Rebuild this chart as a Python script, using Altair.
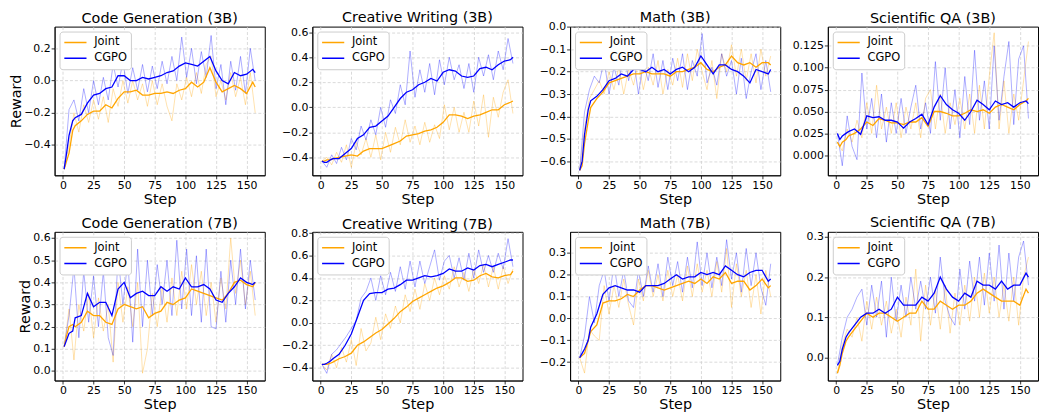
import altair as alt
import pandas as pd

SERIES = ["Joint", "CGPO"]
RAW_SERIES = ["Joint raw", "CGPO raw"]
COLORS = ["#FFA500", "#0000FF"]

STEPS_SMOOTH = [1, 3, 5, 8, 10, 15, 20, 25, 30, 35, 40, 45, 50, 55, 60, 65, 70, 75, 80, 85,
                90, 95, 100, 105, 110, 115, 120, 125, 130, 135, 140, 145, 150, 155, 157]
STEPS_RAW = [1, 5, 9, 13, 17, 21, 25, 29, 33, 37, 41, 45, 49, 53, 57, 61, 65, 69, 73, 77,
             81, 85, 89, 93, 97, 101, 105, 109, 113, 117, 121, 125, 129, 133, 137, 141, 145, 149, 153, 157]

# ---- Code Generation (3B)
CODE3B_JOINT_SMOOTH = [-0.55, -0.50, -0.45, -0.31, -0.28, -0.25, -0.21, -0.19, -0.19, -0.15, -0.17, -0.11,
                       -0.07, -0.07, -0.06, -0.09, -0.09, -0.08, -0.08, -0.07, -0.08, -0.06, -0.05, -0.01,
                       -0.04, -0.01, 0.08, -0.01, -0.07, -0.05, -0.03, -0.05, -0.08, -0.01, -0.04]
CODE3B_CGPO_SMOOTH = [-0.55, -0.45, -0.34, -0.25, -0.23, -0.21, -0.14, -0.09, -0.08, -0.05, -0.04, 0.03,
                      0.03, 0.0, 0.0, 0.02, 0.01, 0.02, 0.03, 0.05, 0.06, 0.09, 0.11, 0.10,
                      0.09, 0.12, 0.15, 0.06, 0.0, -0.02, 0.05, 0.03, 0.04, 0.07, 0.05]
CODE3B_JOINT_RAW = [-0.55, -0.40, -0.20, -0.32, -0.15, -0.26, -0.12, -0.24, -0.10, -0.26,
                    -0.05, -0.16, 0.0, -0.14, 0.0, -0.12, -0.02, -0.16, 0.0, -0.15,
                    -0.02, -0.16, -0.25, -0.02, -0.12, 0.02, -0.10, 0.05, -0.08, 0.10,
                    0.15, -0.10, 0.0, -0.12, 0.05, -0.10, 0.02, -0.15, 0.05, -0.20]
CODE3B_CGPO_RAW = [-0.55, -0.18, -0.12, -0.25, -0.05, -0.20, 0.0, -0.15, 0.02, -0.12,
                   0.10, -0.04, 0.12, -0.08, 0.08, -0.06, 0.10, -0.07, 0.09, -0.05,
                   0.12, -0.02, 0.15, 0.0, 0.27, 0.02, 0.20, -0.02, 0.18, 0.02,
                   0.28, -0.05, 0.10, -0.15, 0.12, -0.06, 0.15, -0.08, 0.20, 0.0]

# ---- Creative Writing (3B)
CREA3B_JOINT_SMOOTH = [-0.43, -0.43, -0.42, -0.42, -0.41, -0.40, -0.39, -0.38, -0.39, -0.35, -0.33, -0.33,
                       -0.33, -0.31, -0.29, -0.27, -0.23, -0.22, -0.21, -0.19, -0.18, -0.16, -0.12, -0.06,
                       -0.06, -0.07, -0.09, -0.07, -0.06, -0.04, -0.02, -0.02, 0.02, 0.04, 0.05]
CREA3B_CGPO_SMOOTH = [-0.43, -0.44, -0.44, -0.42, -0.41, -0.41, -0.37, -0.33, -0.25, -0.22, -0.16, -0.15,
                      -0.11, -0.07, 0.0, 0.07, 0.12, 0.14, 0.18, 0.20, 0.23, 0.21, 0.28, 0.30,
                      0.29, 0.25, 0.24, 0.25, 0.31, 0.32, 0.30, 0.34, 0.37, 0.38, 0.40]
CREA3B_JOINT_RAW = [-0.43, -0.40, -0.46, -0.36, -0.44, -0.30, -0.48, -0.28, -0.38, -0.25,
                    -0.40, -0.22, -0.42, -0.20, -0.36, -0.16, -0.30, -0.10, -0.28, -0.15,
                    -0.30, -0.12, -0.28, -0.14, -0.25, 0.02, -0.18, 0.0, -0.20, -0.04,
                    -0.20, 0.05, -0.15, 0.10, -0.24, 0.08, -0.08, 0.12, 0.22, -0.05]
CREA3B_CGPO_RAW = [-0.43, -0.48, -0.38, -0.45, -0.32, -0.42, -0.25, -0.34, -0.15, -0.26,
                   -0.10, -0.22, 0.0, -0.16, 0.06, -0.05, 0.18, 0.02, 0.45, 0.08,
                   0.30, 0.12, 0.35, 0.10, 0.38, 0.18, 0.40, 0.22, 0.34, 0.15,
                   0.35, 0.12, 0.40, 0.25, 0.42, 0.22, 0.45, 0.30, 0.55, 0.35]

# ---- Math (3B)
MATH3B_JOINT_SMOOTH = [-0.64, -0.62, -0.52, -0.42, -0.36, -0.32, -0.29, -0.25, -0.24, -0.23, -0.22, -0.21,
                       -0.21, -0.20, -0.21, -0.21, -0.21, -0.22, -0.20, -0.20, -0.19, -0.18, -0.16, -0.19,
                       -0.20, -0.18, -0.17, -0.13, -0.16, -0.17, -0.16, -0.18, -0.16, -0.16, -0.17]
MATH3B_CGPO_SMOOTH = [-0.64, -0.60, -0.48, -0.37, -0.33, -0.31, -0.28, -0.24, -0.23, -0.21, -0.22, -0.19,
                      -0.19, -0.20, -0.18, -0.20, -0.19, -0.21, -0.19, -0.18, -0.20, -0.18, -0.13, -0.17,
                      -0.21, -0.17, -0.17, -0.19, -0.20, -0.22, -0.25, -0.19, -0.20, -0.21, -0.19]
MATH3B_JOINT_RAW = [-0.64, -0.45, -0.32, -0.28, -0.24, -0.30, -0.20, -0.28, -0.18, -0.30,
                    -0.19, -0.26, -0.16, -0.28, -0.18, -0.26, -0.15, -0.30, -0.19, -0.26,
                    -0.14, -0.27, -0.12, -0.24, -0.10, -0.20, -0.28, -0.15, -0.32, -0.12,
                    -0.20, -0.08, -0.22, -0.10, -0.24, -0.12, -0.25, -0.10, -0.22, -0.13]
MATH3B_CGPO_RAW = [-0.64, -0.38, -0.28, -0.22, -0.25, -0.15, -0.30, -0.18, -0.26, -0.10,
                   -0.24, -0.14, -0.30, -0.16, -0.24, -0.12, -0.27, -0.15, -0.28, -0.14,
                   -0.24, -0.12, -0.28, -0.15, -0.22, -0.03, -0.25, -0.18, -0.26, -0.12,
                   -0.22, -0.15, -0.30, -0.14, -0.32, -0.20, -0.12, -0.28, -0.15, -0.29]

# ---- Scientific QA (3B)
SCI3B_JOINT_SMOOTH = [0.015, 0.010, 0.015, 0.018, 0.022, 0.025, 0.030, 0.038, 0.034, 0.042, 0.040, 0.037,
                      0.037, 0.035, 0.038, 0.038, 0.043, 0.033, 0.050, 0.050, 0.048, 0.045, 0.045, 0.048,
                      0.052, 0.050, 0.052, 0.048, 0.055, 0.058, 0.055, 0.052, 0.058, 0.062, 0.065]
SCI3B_CGPO_SMOOTH = [0.025, 0.018, 0.022, 0.025, 0.027, 0.030, 0.024, 0.045, 0.043, 0.044, 0.040, 0.040,
                     0.038, 0.031, 0.038, 0.042, 0.047, 0.035, 0.055, 0.068, 0.058, 0.052, 0.048, 0.040,
                     0.050, 0.063, 0.058, 0.052, 0.062, 0.058, 0.060, 0.055, 0.060, 0.062, 0.059]
SCI3B_JOINT_RAW = [0.015, 0.005, 0.030, 0.015, 0.040, 0.020, 0.060, 0.025, 0.080, 0.030,
                   0.055, 0.025, 0.060, 0.020, 0.055, 0.030, 0.060, 0.020, 0.065, 0.075,
                   0.030, 0.070, 0.025, 0.060, 0.035, 0.065, 0.030, 0.070, 0.025, 0.080,
                   0.030, 0.090, 0.140, 0.030, 0.085, 0.025, 0.070, 0.040, 0.085, 0.130]
SCI3B_CGPO_RAW = [0.025, -0.012, 0.045, 0.010, -0.005, 0.094, 0.030, 0.065, 0.020, 0.070,
                  0.015, 0.060, 0.025, 0.065, 0.025, 0.055, 0.080, 0.030, 0.060, 0.025,
                  0.107, 0.040, 0.100, 0.030, 0.075, 0.020, 0.090, 0.035, 0.120, 0.040,
                  0.085, 0.030, 0.125, 0.040, 0.090, 0.130, 0.035, 0.110, 0.125, 0.042]

# ---- Code Generation (7B)
CODE7B_JOINT_SMOOTH = [0.11, 0.16, 0.20, 0.21, 0.20, 0.22, 0.27, 0.25, 0.25, 0.22, 0.21, 0.28,
                       0.30, 0.29, 0.28, 0.29, 0.24, 0.26, 0.27, 0.31, 0.30, 0.32, 0.33, 0.37,
                       0.36, 0.35, 0.34, 0.33, 0.32, 0.35, 0.40, 0.41, 0.39, 0.38, 0.40]
CODE7B_CGPO_SMOOTH = [0.11, 0.14, 0.17, 0.18, 0.24, 0.25, 0.35, 0.29, 0.31, 0.31, 0.25, 0.37,
                      0.40, 0.33, 0.35, 0.36, 0.34, 0.34, 0.38, 0.36, 0.38, 0.37, 0.42, 0.38,
                      0.38, 0.39, 0.37, 0.32, 0.31, 0.35, 0.38, 0.42, 0.40, 0.39, 0.40]
CODE7B_JOINT_RAW = [0.11, 0.28, 0.05, 0.30, 0.18, 0.35, 0.15, 0.33, 0.18, 0.30,
                    0.04, 0.40, 0.22, 0.38, 0.20, 0.40, -0.01, 0.10, 0.35, 0.20,
                    0.38, 0.22, 0.42, 0.25, 0.45, 0.28, 0.48, 0.30, 0.45, 0.25,
                    0.40, 0.22, 0.42, 0.28, 0.60, 0.35, 0.50, 0.30, 0.45, 0.25]
CODE7B_CGPO_RAW = [0.11, 0.25, 0.47, 0.15, 0.45, 0.22, 0.43, 0.20, 0.45, 0.15,
                   0.07, 0.52, 0.30, 0.50, 0.13, 0.55, 0.20, 0.50, 0.25, 0.48,
                   0.30, 0.50, 0.25, 0.59, 0.28, 0.55, 0.25, 0.52, 0.22, 0.55,
                   0.20, 0.19, 0.45, 0.22, 0.50, 0.30, 0.55, 0.28, 0.50, 0.32]

# ---- Creative Writing (7B)
CREA7B_JOINT_SMOOTH = [-0.37, -0.37, -0.37, -0.36, -0.35, -0.32, -0.30, -0.27, -0.20, -0.17, -0.13, -0.09,
                       -0.06, -0.01, 0.04, 0.10, 0.14, 0.19, 0.22, 0.25, 0.28, 0.31, 0.33, 0.36,
                       0.40, 0.40, 0.37, 0.38, 0.42, 0.44, 0.41, 0.40, 0.42, 0.43, 0.46]
CREA7B_CGPO_SMOOTH = [-0.37, -0.37, -0.36, -0.34, -0.32, -0.28, -0.20, -0.10, 0.05, 0.20, 0.26, 0.27,
                      0.27, 0.30, 0.31, 0.34, 0.38, 0.38, 0.40, 0.42, 0.41, 0.42, 0.44, 0.48,
                      0.46, 0.46, 0.49, 0.47, 0.51, 0.52, 0.50, 0.52, 0.54, 0.56, 0.56]
CREA7B_JOINT_RAW = [-0.37, -0.42, -0.28, -0.40, -0.22, -0.35, -0.15, -0.38, -0.05, -0.25,
                    -0.18, 0.05, -0.15, 0.08, -0.05, 0.15, 0.0, 0.25, 0.10, 0.30,
                    0.12, 0.35, 0.20, 0.40, 0.25, 0.42, 0.30, 0.50, 0.32, 0.45,
                    0.28, 0.48, 0.35, 0.52, 0.32, 0.50, 0.30, 0.50, 0.35, 0.48]
CREA7B_CGPO_RAW = [-0.37, -0.45, -0.28, -0.24, -0.18, -0.12, -0.05, 0.02, 0.22, 0.28,
                   0.40, 0.20, 0.42, 0.25, 0.45, 0.28, 0.50, 0.30, 0.55, 0.32,
                   0.55, 0.35, 0.50, 0.65, 0.38, 0.55, 0.60, 0.40, 0.58, 0.38,
                   0.62, 0.40, 0.65, 0.45, 0.60, 0.45, 0.62, 0.48, 0.75, 0.50]

# ---- Math (7B)
MATH7B_JOINT_SMOOTH = [-0.18, -0.17, -0.16, -0.10, -0.06, -0.03, 0.07, 0.08, 0.08, 0.09, 0.11, 0.10,
                       0.13, 0.15, 0.15, 0.14, 0.13, 0.14, 0.15, 0.16, 0.17, 0.16, 0.18, 0.16,
                       0.19, 0.18, 0.21, 0.16, 0.17, 0.17, 0.13, 0.15, 0.18, 0.14, 0.15]
MATH7B_CGPO_SMOOTH = [-0.18, -0.16, -0.14, -0.10, -0.04, 0.02, 0.11, 0.14, 0.15, 0.14, 0.13, 0.13,
                      0.12, 0.15, 0.15, 0.15, 0.16, 0.18, 0.20, 0.18, 0.19, 0.19, 0.21, 0.20,
                      0.21, 0.20, 0.24, 0.22, 0.20, 0.19, 0.21, 0.22, 0.22, 0.17, 0.18]
MATH7B_JOINT_RAW = [-0.18, -0.25, -0.05, -0.08, -0.10, 0.15, 0.02, 0.15, 0.05, 0.18,
                    0.06, -0.03, 0.18, 0.08, 0.22, 0.10, 0.20, 0.08, 0.22, 0.10,
                    0.20, 0.08, 0.24, 0.10, 0.25, 0.12, 0.22, 0.10, 0.26, 0.12,
                    0.32, 0.05, 0.25, 0.10, 0.22, 0.05, 0.20, 0.02, 0.22, 0.10]
MATH7B_CGPO_RAW = [-0.18, -0.08, 0.10, -0.02, 0.15, 0.22, 0.08, 0.25, 0.10, 0.22,
                   0.08, 0.05, 0.22, 0.10, 0.24, 0.12, 0.25, 0.10, 0.28, 0.15,
                   0.26, 0.12, 0.28, 0.14, 0.35, 0.15, 0.30, 0.14, 0.28, 0.15,
                   0.36, 0.18, 0.30, 0.12, 0.32, 0.15, 0.30, 0.14, 0.06, 0.25]

# ---- Scientific QA (7B)
SCI7B_JOINT_SMOOTH = [-0.04, -0.02, 0.01, 0.04, 0.05, 0.07, 0.09, 0.11, 0.10, 0.11, 0.11, 0.10,
                      0.09, 0.10, 0.11, 0.11, 0.14, 0.12, 0.12, 0.14, 0.13, 0.12, 0.13, 0.13,
                      0.14, 0.16, 0.17, 0.16, 0.15, 0.14, 0.14, 0.14, 0.13, 0.17, 0.16]
SCI7B_CGPO_SMOOTH = [-0.02, -0.01, 0.02, 0.05, 0.06, 0.08, 0.10, 0.11, 0.11, 0.12, 0.11, 0.12,
                     0.15, 0.13, 0.13, 0.13, 0.15, 0.14, 0.16, 0.20, 0.17, 0.15, 0.14, 0.16,
                     0.15, 0.19, 0.18, 0.18, 0.17, 0.19, 0.17, 0.18, 0.18, 0.21, 0.20]
SCI7B_JOINT_RAW = [-0.04, 0.03, 0.07, 0.05, 0.10, 0.04, 0.14, 0.07, 0.15, 0.08,
                   0.14, 0.06, 0.12, 0.05, 0.15, 0.08, 0.22, 0.04, 0.18, 0.08,
                   0.17, 0.07, 0.18, 0.06, 0.16, 0.08, 0.18, 0.09, 0.20, 0.10,
                   0.21, 0.11, 0.20, 0.10, 0.18, 0.09, 0.20, 0.08, 0.20, 0.25]
SCI7B_CGPO_RAW = [-0.02, 0.05, 0.10, 0.12, 0.15, 0.17, 0.08, 0.18, 0.10, 0.19,
                  0.05, 0.20, 0.09, 0.18, 0.10, 0.20, 0.12, 0.19, 0.12, 0.20,
                  0.11, 0.25, 0.14, 0.10, 0.08, 0.22, 0.12, 0.24, 0.14, 0.25,
                  0.13, 0.26, 0.14, 0.28, 0.12, 0.26, 0.14, 0.25, 0.29, 0.18]

X_TICKS = [0, 25, 50, 75, 100, 125, 150]

PANELS = [
    ("Code Generation (3B)", CODE3B_JOINT_SMOOTH, CODE3B_CGPO_SMOOTH, CODE3B_JOINT_RAW, CODE3B_CGPO_RAW,
     [-0.588, 0.335], [-0.4, -0.2, 0.0, 0.2], ".1f"),
    ("Creative Writing (3B)", CREA3B_JOINT_SMOOTH, CREA3B_CGPO_SMOOTH, CREA3B_JOINT_RAW, CREA3B_CGPO_RAW,
     [-0.544, 0.645], [-0.4, -0.2, 0.0, 0.2, 0.4, 0.6], ".1f"),
    ("Math (3B)", MATH3B_JOINT_SMOOTH, MATH3B_CGPO_SMOOTH, MATH3B_JOINT_RAW, MATH3B_CGPO_RAW,
     [-0.662, 0.001], [-0.6, -0.5, -0.4, -0.3, -0.2, -0.1, 0.0], ".1f"),
    ("Scientific QA (3B)", SCI3B_JOINT_SMOOTH, SCI3B_CGPO_SMOOTH, SCI3B_JOINT_RAW, SCI3B_CGPO_RAW,
     [-0.0229, 0.147], [0.0, 0.025, 0.05, 0.075, 0.1, 0.125], ".3f"),
    ("Code Generation (7B)", CODE7B_JOINT_SMOOTH, CODE7B_CGPO_SMOOTH, CODE7B_JOINT_RAW, CODE7B_CGPO_RAW,
     [-0.043, 0.628], [0.0, 0.1, 0.2, 0.3, 0.4, 0.5, 0.6], ".1f"),
    ("Creative Writing (7B)", CREA7B_JOINT_SMOOTH, CREA7B_CGPO_SMOOTH, CREA7B_JOINT_RAW, CREA7B_CGPO_RAW,
     [-0.514, 0.811], [-0.4, -0.2, 0.0, 0.2, 0.4, 0.6, 0.8], ".1f"),
    ("Math (7B)", MATH7B_JOINT_SMOOTH, MATH7B_CGPO_SMOOTH, MATH7B_JOINT_RAW, MATH7B_CGPO_RAW,
     [-0.284, 0.396], [-0.2, -0.1, 0.0, 0.1, 0.2, 0.3], ".1f"),
    ("Scientific QA (7B)", SCI7B_JOINT_SMOOTH, SCI7B_CGPO_SMOOTH, SCI7B_JOINT_RAW, SCI7B_CGPO_RAW,
     [-0.058, 0.313], [0.0, 0.1, 0.2, 0.3], ".1f"),
]

FONT = "DejaVu Sans"


def long_frame(steps, joint, cgpo, names):
    rows = []
    for s, v in zip(steps, joint):
        rows.append({"step": s, "value": v, "series": names[0]})
    for s, v in zip(steps, cgpo):
        rows.append({"step": s, "value": v, "series": names[1]})
    return pd.DataFrame(rows)


def make_panel(idx, title, js, cs, jr, cr, ydom, yticks, fmt):
    smooth = long_frame(STEPS_SMOOTH, js, cs, SERIES)
    raw = long_frame(STEPS_RAW, jr, cr, RAW_SERIES)
    first_col = idx % 4 == 0
    # a tick label sitting on the top edge widens the panel bounds upward; compensate the title
    top_label = abs(yticks[-1] - ydom[1]) < 0.02 * (ydom[1] - ydom[0])
    title_dy = 9 if top_label else 3.5
    x = alt.X("step:Q",
              scale=alt.Scale(domain=[-6.8, 164.8], nice=False, zero=False),
              axis=alt.Axis(values=X_TICKS, title="Step", format="d", labelOverlap=False))
    y = alt.Y("value:Q",
              scale=alt.Scale(domain=ydom, nice=False, zero=False),
              axis=alt.Axis(values=yticks, format=fmt, title="Reward" if first_col else None,
                            labelOverlap=False))
    raw_layer = alt.Chart(raw).mark_line(strokeWidth=1, opacity=0.32, clip=True).encode(
        x=x, y=y,
        stroke=alt.Stroke("series:N", scale=alt.Scale(domain=RAW_SERIES, range=COLORS), legend=None),
        detail="series:N",
        order="step:Q",
    )
    smooth_layer = alt.Chart(smooth).mark_line(strokeWidth=1.3, clip=True).encode(
        x=x, y=y,
        color=alt.Color("series:N", scale=alt.Scale(domain=SERIES, range=COLORS),
                        legend=alt.Legend(title=None, orient="top-left", offset=5, padding=4,
                                          strokeColor="#cccccc", fillColor="white", cornerRadius=3,
                                          symbolType="stroke", symbolSize=500, symbolStrokeWidth=1.5,
                                          labelFontSize=11.5, labelFont=FONT, labelColor="black",
                                          clipHeight=14, rowPadding=2, labelOffset=7)),
        order="step:Q",
    )
    return alt.layer(raw_layer, smooth_layer).properties(
        width=212, height=150, title=alt.TitleParams(title, dy=title_dy)
    )


charts = [make_panel(i, *p) for i, p in enumerate(PANELS)]

chart = alt.concat(*charts, columns=4, spacing={"row": 57, "column": 48}, bounds="flush").resolve_scale(
    color="independent", stroke="independent"
).resolve_legend(color="independent").properties(padding=0).configure_view(
    stroke="black", strokeWidth=1
).configure_title(
    font=FONT, fontSize=14.5, fontWeight="normal", color="black", offset=0
).configure_axis(
    labelFont=FONT, labelFontSize=11, labelColor="black", titleFont=FONT, titleFontSize=14.5,
    titleFontWeight="normal", titleColor="black", tickColor="black", tickSize=3.5, tickWidth=0.8,
    gridColor="#d0d0d0", gridDash=[3, 2], gridWidth=0.8, domainColor="black", domainWidth=0.8,
    labelPadding=1
).configure_axisY(titlePadding=0).configure_axisX(titlePadding=2)

chart.save("out.html", embed_options={"renderer": "svg", "actions": False})
